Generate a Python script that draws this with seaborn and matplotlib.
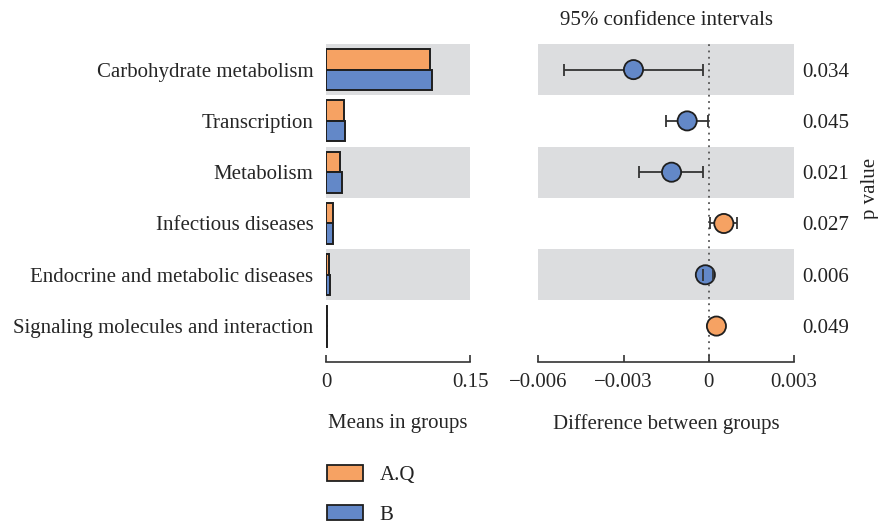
import numpy as np
import pandas as pd
import matplotlib
matplotlib.use("Agg")
import matplotlib.pyplot as plt
import seaborn as sns
from matplotlib.patches import Patch

# Pathways and group means
pathways = [
    "Carbohydrate metabolism",
    "Transcription",
    "Metabolism",
    "Infectious diseases",
    "Endocrine and metabolic diseases",
    "Signaling molecules and interaction",
]
mean_aq = [0.1083, 0.0188, 0.0149, 0.0076, 0.0035, 0.0008]
mean_b = [0.1107, 0.0198, 0.0167, 0.0069, 0.0038, 0.0006]

# Difference between groups with 95% confidence intervals
diff = [-0.00265, -0.00076, -0.00131, 0.00053, -0.00012, 0.00027]
ci_low = [-0.00509, -0.00150, -0.00245, 0.00006, -0.00019, 0.00025]
ci_high = [-0.00022, -0.00001, -0.00022, 0.00100, 0.00015, 0.00029]
p_values = ["0.034", "0.045", "0.021", "0.027", "0.006", "0.049"]

groups = ["A.Q", "B"]
colors = {"A.Q": "#F6A263", "B": "#6388C8"}
band_color = "#DCDDDF"
edge = "#1f1f1f"
fs = 15

sns.set_theme(style="white")
plt.rcParams["font.family"] = ["Liberation Serif", "DejaVu Serif"]
plt.rcParams["text.color"] = "#222222"

fig = plt.figure(figsize=(8.79, 5.24), dpi=100)
ax1 = fig.add_axes([0.3709, 0.3092, 0.1638, 0.6069])
ax2 = fig.add_axes([0.6124, 0.3092, 0.2909, 0.6069])

n = len(pathways)
ylim = (n - 0.3, -0.5)

# Alternating background bands
for ax in (ax1, ax2):
    ax.set_axisbelow(False)
    for i in range(0, n, 2):
        ax.axhspan(i - 0.5, i + 0.5, color=band_color, lw=0, zorder=0)

# Left panel: mean proportions per group
df = pd.DataFrame({
    "pathway": pathways * 2,
    "group": [groups[0]] * n + [groups[1]] * n,
    "mean": mean_aq + mean_b,
})
sns.barplot(data=df, x="mean", y="pathway", hue="group", order=pathways,
            hue_order=groups, palette=colors, saturation=1, width=0.8,
            orient="h", edgecolor=edge, linewidth=1.4, legend=False,
            ax=ax1, zorder=2)
ax1.set_xlim(0, 0.15)
ax1.set_ylim(*ylim)
ax1.set_xticks([0, 0.15])
ax1.set_xticklabels(["0", "0.15"])
ax1.set_xlabel("Means in groups", fontsize=fs, labelpad=16)
ax1.set_ylabel("")
ax1.tick_params(axis="y", length=0, labelsize=fs, pad=9)

# Right panel: differences with confidence intervals
ypos = np.arange(n)
lo = np.array(diff) - np.array(ci_low)
hi = np.array(ci_high) - np.array(diff)
k = n - 1
eb = ax2.errorbar(diff[:k], ypos[:k], xerr=[lo[:k], hi[:k]], fmt="none",
                  ecolor="#333333", elinewidth=1.3, capsize=4, capthick=1.3,
                  zorder=3)
for cap in eb[1]:
    cap.set_zorder(5)
ax2.errorbar(diff[k:], ypos[k:], xerr=[lo[k:], hi[k:]], fmt="none",
             ecolor="#333333", elinewidth=1.3, capsize=4, capthick=1.3,
             zorder=3)
ax2.axvline(0, color="#555555", ls=(0, (1, 2.5)), lw=1.3, zorder=1)
pt = pd.DataFrame({"diff": diff, "y": ypos,
                   "group": ["A.Q" if d > 0 else "B" for d in diff]})
sns.scatterplot(data=pt, x="diff", y="y", hue="group", palette=colors,
                s=190, edgecolor=edge, linewidth=1.3, legend=False,
                ax=ax2, zorder=4)
ax2.set_xlim(-0.006, 0.003)
ax2.set_ylim(*ylim)
ax2.set_xticks([-0.006, -0.003, 0, 0.003])
ax2.set_xticklabels(["\u22120.006", "\u22120.003", "0", "0.003"])
ax2.set_yticks([])
ax2.set_ylabel("")
ax2.set_xlabel("Difference between groups", fontsize=fs, labelpad=16)
ax2.set_title("95% confidence intervals", fontsize=fs, pad=14)

for i, p in enumerate(p_values):
    ax2.text(1.033, i, p, transform=ax2.get_yaxis_transform(),
             ha="left", va="center_baseline", fontsize=fs)
fig.text(0.99, 0.64, "p value", rotation=90, ha="center", va="center",
         fontsize=fs)

for ax in (ax1, ax2):
    for side in ("top", "right", "left"):
        ax.spines[side].set_visible(False)
    ax.spines["bottom"].set_color("#333333")
    ax.spines["bottom"].set_linewidth(1.2)
    ax.set_facecolor("none")
    ax.tick_params(axis="x", bottom=True, direction="in", length=5,
                   width=1.2, labelsize=fs, pad=8, color="#333333")

# Group legend
handles = [Patch(facecolor=colors[g], edgecolor=edge, linewidth=1.3, label=g)
           for g in groups]
fig.legend(handles=handles, loc="upper left", bbox_to_anchor=(0.362, 0.128),
           frameon=False, fontsize=fs, handlelength=1.75, handleheight=0.75,
           labelspacing=0.95, handletextpad=0.8, borderaxespad=0)

fig.savefig("out.png", dpi=100)
